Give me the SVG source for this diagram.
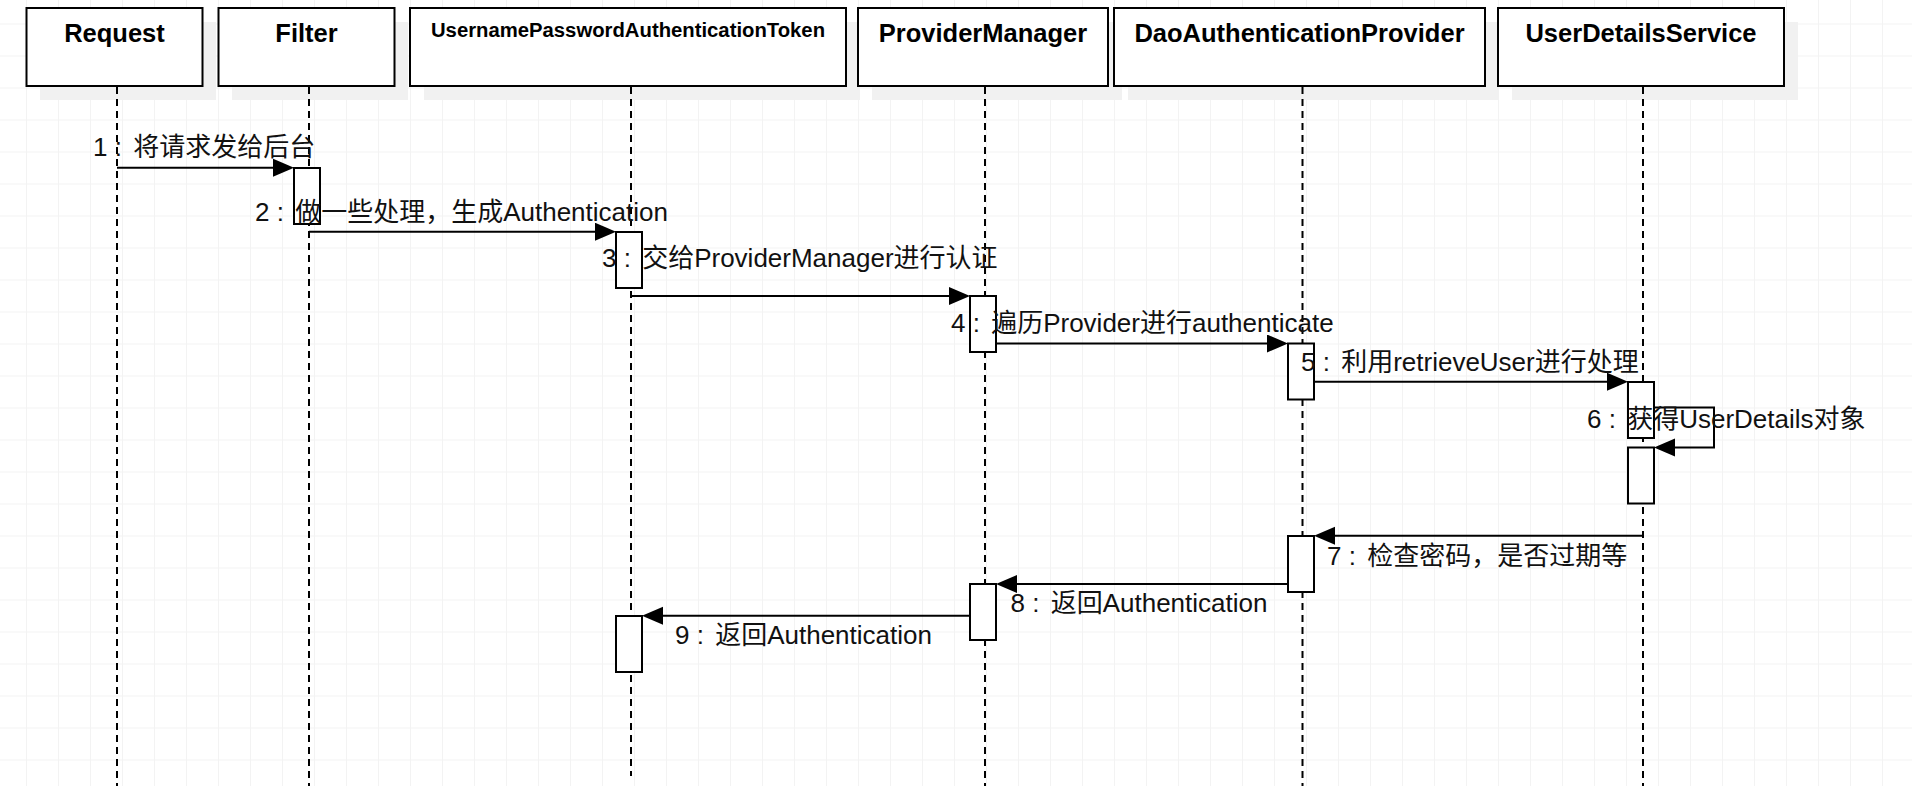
<svg xmlns="http://www.w3.org/2000/svg" width="1912" height="786" viewBox="0 0 1912 786">
  <style>
    .shadow{fill:#f1f1f1}
    .box{fill:#ffffff;stroke:#000000;stroke-width:2}
    .life{stroke:#000000;stroke-width:2;stroke-dasharray:7 5;fill:none}
    .act{fill:#ffffff;stroke:#000000;stroke-width:2}
    .msg{stroke:#000000;stroke-width:2;fill:none;marker-end:url(#arr)}
    .title{font-family:"Liberation Sans",Arial,sans-serif;font-weight:bold;font-size:25.5px;text-anchor:middle;fill:#000}
    .lbl{font-family:"Liberation Sans","Noto Sans CJK SC",sans-serif;font-size:26px;fill:#111}
  </style>
  <defs>
    <pattern id="grid" x="26" y="23.5" width="32" height="32" patternUnits="userSpaceOnUse">
      <path d="M0.5,0 V32 M0,0.5 H32" stroke="#f3f3f3" stroke-width="1" fill="none"/>
    </pattern>
    <marker id="arr" markerUnits="userSpaceOnUse" markerWidth="22" markerHeight="20" refX="11" refY="9" orient="auto">
      <path d="M0,0 L21,9 L0,18 Z" fill="#000000"/>
    </marker>
  </defs>
  <rect x="0" y="0" width="1912" height="786" fill="#ffffff"/>
  <rect x="0" y="0" width="1912" height="786" fill="url(#grid)"/>

  <g id="node-request">
    <rect class="shadow" x="40" y="22" width="176" height="78"/>
    <rect class="box" x="26.5" y="8" width="176" height="78"/>
    <text class="title" x="114.5" y="42">Request</text>
    <line class="life" x1="117" y1="87" x2="117" y2="786"/>
  </g>

  <g id="node-filter">
    <rect class="shadow" x="232" y="22" width="176" height="78"/>
    <rect class="box" x="218.5" y="8" width="176" height="78"/>
    <text class="title" x="306.5" y="42">Filter</text>
    <line class="life" x1="309" y1="87" x2="309" y2="786"/>
    <rect class="act" x="294" y="168" width="26" height="56"/>
  </g>

  <g id="node-token">
    <rect class="shadow" x="424" y="22" width="436" height="78"/>
    <rect class="box" x="410" y="8" width="436" height="78"/>
    <text class="title" x="628" y="37" style="font-size:20.3px">UsernamePasswordAuthenticationToken</text>
    <line class="life" x1="631" y1="87" x2="631" y2="776"/>
    <rect class="act" x="616" y="232" width="26" height="56"/>
    <rect class="act" x="616" y="616" width="26" height="56"/>
  </g>

  <g id="node-providermanager">
    <rect class="shadow" x="872" y="22" width="250" height="78"/>
    <rect class="box" x="858" y="8" width="250" height="78"/>
    <text class="title" x="983" y="42">ProviderManager</text>
    <line class="life" x1="985" y1="87" x2="985" y2="786"/>
    <rect class="act" x="970" y="296" width="26" height="56"/>
    <rect class="act" x="970" y="584" width="26" height="56"/>
  </g>

  <g id="node-daoprovider">
    <rect class="shadow" x="1128" y="22" width="371" height="78"/>
    <rect class="box" x="1114" y="8" width="371" height="78"/>
    <text class="title" x="1299.5" y="42">DaoAuthenticationProvider</text>
    <line class="life" x1="1302.5" y1="87" x2="1302.5" y2="786"/>
    <rect class="act" x="1288" y="343.5" width="26" height="56"/>
    <rect class="act" x="1288" y="536" width="26" height="56"/>
  </g>

  <g id="node-userdetailsservice">
    <rect class="shadow" x="1512" y="22" width="286" height="78"/>
    <rect class="box" x="1498" y="8" width="286" height="78"/>
    <text class="title" x="1641" y="42">UserDetailsService</text>
    <line class="life" x1="1643" y1="87" x2="1643" y2="786"/>
    <rect class="act" x="1628" y="382" width="26" height="56"/>
    <rect class="act" x="1628" y="447.5" width="26" height="56"/>
  </g>

  <g id="connectors">
    <path class="msg" d="M117,167.7 H284"/>
    <text class="lbl" x="93" y="156">1 :<tspan dx="4"> 将请求发给后台</tspan></text>

    <path class="msg" d="M309,231.7 H606"/>
    <text class="lbl" x="255" y="221">2 :<tspan dx="4"> 做一些处理，生成Authentication</tspan></text>

    <path class="msg" d="M631,296 H960"/>
    <text class="lbl" x="602" y="267">3 :<tspan dx="4"> 交给ProviderManager进行认证</tspan></text>

    <path class="msg" d="M996,343.5 H1278"/>
    <text class="lbl" x="951" y="332">4 :<tspan dx="4"> 遍历Provider进行authenticate</tspan></text>

    <path class="msg" d="M1314,381.7 H1618"/>
    <text class="lbl" x="1301" y="371">5 :<tspan dx="4"> 利用retrieveUser进行处理</tspan></text>

    <path class="msg" d="M1654,407.5 H1714 V447.5 H1664"/>
    <text class="lbl" x="1587" y="428">6 :<tspan dx="4"> 获得UserDetails对象</tspan></text>

    <path class="msg" d="M1643,535.7 H1324"/>
    <text class="lbl" x="1327" y="565">7 :<tspan dx="4"> 检查密码，是否过期等</tspan></text>

    <path class="msg" d="M1288,584 H1006"/>
    <text class="lbl" x="1010.5" y="612">8 :<tspan dx="4"> 返回Authentication</tspan></text>

    <path class="msg" d="M970,615.7 H652"/>
    <text class="lbl" x="675" y="644">9 :<tspan dx="4"> 返回Authentication</tspan></text>
  </g>
</svg>
